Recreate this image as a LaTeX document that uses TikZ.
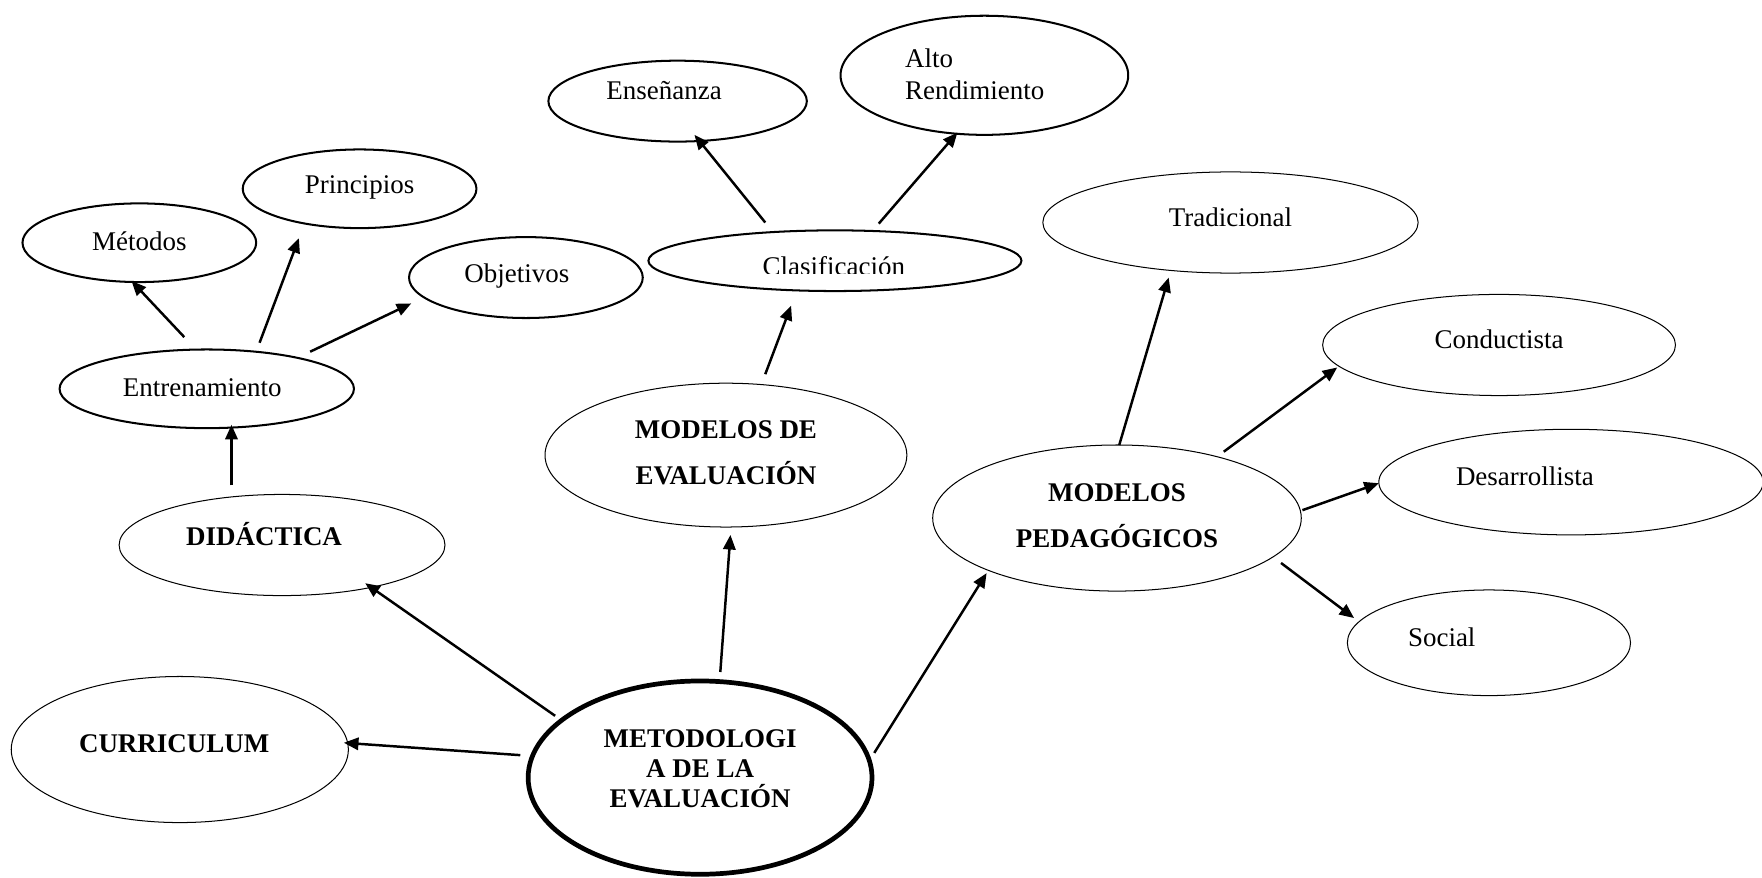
\documentclass[tikz,border=0pt]{standalone}
\usepackage{fontspec}
\setmainfont{Liberation Serif}
\usetikzlibrary{shapes.geometric,arrows.meta,calc}
\begin{document}
\begin{tikzpicture}[x=0.5pt,y=-0.5pt,
  ellk/.style={ellipse,draw,inner sep=0pt,line width=0.9pt},
  ellt/.style={ellipse,draw,inner sep=0pt,line width=0.45pt},
  ellb/.style={ellipse,draw,inner sep=0pt,line width=2.1pt},
  lab/.style={font=\fontsize{12}{14}\selectfont,align=left,inner sep=0pt},
  blab/.style={font=\bfseries\fontsize{12}{20.5}\selectfont,align=center,inner sep=0pt},
  arr/.style={line width=1.1pt,-{Triangle[length=6.5pt,width=5.5pt]}}]
\useasboundingbox (0,0) rectangle (1568,781);
% ellipses
\node[ellk,minimum width=104pt,minimum height=35pt] (met) at (124,216) {};
\node[ellk,minimum width=104pt,minimum height=35pt] (pri) at (320,168) {};
\node[ellk,minimum width=104pt,minimum height=36pt] (obj) at (468,247) {};
\node[ellk,minimum width=131pt,minimum height=35pt] (ent) at (184,346) {};
\node[ellk,minimum width=115pt,minimum height=36pt] (ens) at (603,90) {};
\node[ellk,minimum width=128pt,minimum height=53pt] (alto) at (876,67) {};
\node[ellk,minimum width=166pt,minimum height=27pt] (cla) at (743,232) {};
\node[ellt,minimum width=167pt,minimum height=45pt] (tra) at (1095,198) {};
\node[ellt,minimum width=157pt,minimum height=45pt] (con) at (1334,307) {};
\node[ellt,minimum width=171pt,minimum height=47pt] (des) at (1398,429) {};
\node[ellt,minimum width=126pt,minimum height=47pt] (soc) at (1325,572) {};
\node[ellt,minimum width=161pt,minimum height=64pt] (mev) at (646,405) {};
\node[ellt,minimum width=164pt,minimum height=65pt] (mped) at (994,461) {};
\node[ellt,minimum width=145pt,minimum height=45pt] (did) at (251,485) {};
\node[ellt,minimum width=150pt,minimum height=65pt] (cur) at (160,667) {};
\node[ellb,minimum width=153pt,minimum height=86pt] (meto) at (623,692) {};
% texts
\node[lab] (tmet) at (124,215) {Métodos};
\node[lab] (tpri) at (320,167) {Principios};
\node[lab] (tobj) at (460,246) {Objetivos};
\node[lab] (tent) at (180,345) {Entrenamiento};
\node[lab] (tens) at (591,81) {Enseñanza};
\node[lab,anchor=west] (talto) at (805,66) {Alto\\Rendimiento};
\begin{scope}
  \clip (640,215) rectangle (850,243);
  \node[lab] (tcla) at (742,237) {Clasificación};
\end{scope}
\node[lab] (ttra) at (1095,193) {Tradicional};
\node[lab] (tcon) at (1334,302) {Conductista};
\node[lab] (tdes) at (1357,424) {Desarrollista};
\node[lab] (tsoc) at (1283,567) {Social};
\node[blab] (tmev) at (646,403) {MODELOS DE\\EVALUACIÓN};
\node[blab] (tmped) at (994,459) {MODELOS\\PEDAGÓGICOS};
\node[blab] (tdid) at (235,475) {DIDÁCTICA};
\node[blab] (tcur) at (155,662) {CURRICULUM};
\node[blab,font=\bfseries\fontsize{12}{13.25}\selectfont] (tmeto) at (623,684) {METODOLOGI\\A DE LA\\EVALUACIÓN};
% connectors
\draw[arr] ($(ent)+(-20,-46)$) -- ($(met)+(-7,34)$);
\draw[arr] ($(ent)+(47,-41)$) -- ($(pri)+(-54,44)$);
\draw[arr] ($(ent)+(92,-33)$) -- ($(obj)+(-102,23)$);
\draw[arr] ($(did)+(-45,-53)$) -- ($(ent)+(22,32)$);
\draw[arr] ($(cla)+(-62,-34)$) -- ($(ens)+(15,30)$);
\draw[arr] ($(cla)+(39,-33)$) -- ($(alto)+(-24,51)$);
\draw[arr] ($(mev)+(35,-72)$) -- ($(cla)+(-39,40)$);
\draw[arr] ($(meto)+(-129,-55)$) -- ($(did)+(74,34)$);
\draw[arr] ($(meto)+(-160,-20)$) -- ($(cur)+(146,-6)$);
\draw[arr] ($(meto)+(18,-94)$) -- ($(mev)+(4,71)$);
\draw[arr] ($(meto)+(155,-22)$) -- ($(mped)+(-116,49)$);
\draw[arr] ($(mped)+(2,-65)$) -- ($(tra)+(-55,49)$);
\draw[arr] ($(mped)+(95,-59)$) -- ($(con)+(-144,20)$);
\draw[arr] ($(mped)+(165,-7)$) -- ($(des)+(-171,1)$);
\draw[arr] ($(mped)+(146,40)$) -- ($(soc)+(-120,-22)$);
\end{tikzpicture}
\end{document}
